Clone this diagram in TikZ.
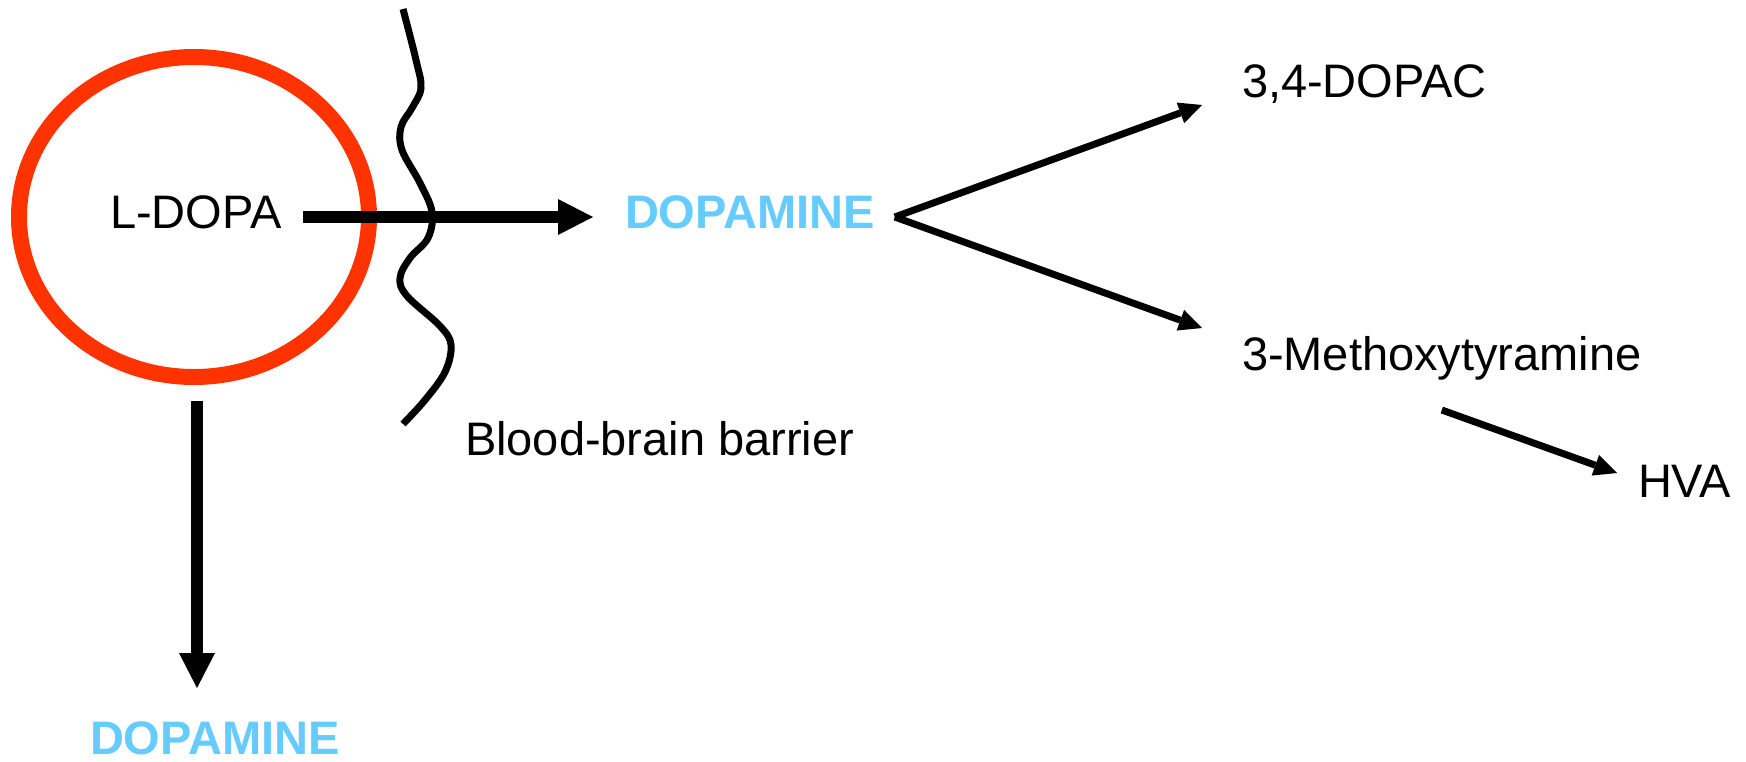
\documentclass[tikz,border=0pt]{standalone}
\usepackage{fontspec}
\setmainfont{Liberation Sans}
\usetikzlibrary{arrows.meta,shapes.geometric,calc}
\definecolor{cellred}{RGB}{255,51,0}
\definecolor{dopablue}{RGB}{102,204,255}
\begin{document}
\begin{tikzpicture}[x=1pt,y=-1pt,
  lbl/.style={inner sep=0pt,outer sep=0pt,anchor=base west,text height=34pt,text depth=12pt,font=\fontsize{47}{56}\selectfont},
  dopa/.style={lbl,font=\fontsize{47}{56}\selectfont\bfseries,text=dopablue},
  bigarrow/.style={line width=12pt,-{Triangle[length=35pt,width=36pt,line width=0pt]}},
  smallarrow/.style={line width=7pt,-{Triangle[length=23pt,width=22pt,line width=0pt]}},
  cellstyle/.style={ellipse,draw=cellred,line width=16pt,inner sep=0pt,minimum width=350pt,minimum height=320pt},
  barrierline/.style={line width=7pt}
]
\useasboundingbox (0,0) rectangle (1746,761);

% cell with L-DOPA
\node[cellstyle] (cell) at (194,217) {};
\node[lbl] (ldopa) at (110,228) {L-DOPA};

% blood-brain barrier
\draw[barrierline] plot[smooth,tension=0.6] coordinates {(403,9) (416,60) (421,88) (412,108) (401,127) (402,150) (420,183) (432,212) (428,238) (410,258) (400,278) (407,296) (440,326) (451,345) (445,372) (425,400) (403,424)};
\node[lbl] (bbb) at (465,455) {Blood-brain barrier};

% dopamine in brain and metabolites
\node[dopa] (dopa1) at (625,228) {DOPAMINE};
\node[lbl] (dopac) at (1242,97) {3,4-DOPAC};
\node[lbl] (meth) at (1242,370) {3-Methoxytyramine};
\node[lbl] (hva) at (1638,497) {HVA};

% peripheral dopamine
\node[dopa,text depth=0pt] (dopa2) at (90,754) {DOPAMINE};

% connectors
\draw[bigarrow] ([xshift=21pt]ldopa.east) -- ([xshift=-32pt]dopa1.west);
\draw[smallarrow] ([xshift=20pt]dopa1.east) -- ([shift={(-40,19)}]dopac.west);
\draw[smallarrow] ([xshift=20pt]dopa1.east) -- ([shift={(-40,-31)}]meth.west);
\draw[smallarrow] ([shift={(0,28)}]meth.south) -- ([shift={(-21,-13)}]hva.west);
\draw[bigarrow] ([shift={(3,16)}]cell.south) -- ($(cell.south |- dopa2.north)+(3,-32)$);
\end{tikzpicture}
\end{document}
